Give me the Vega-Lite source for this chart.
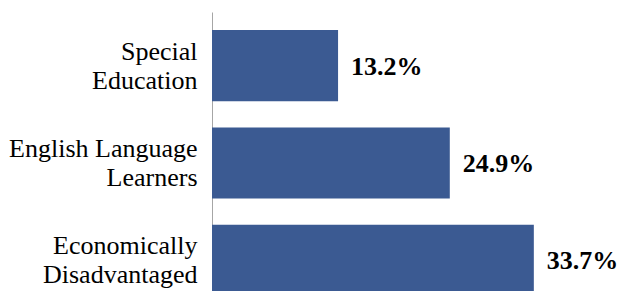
{
  "$schema": "https://vega.github.io/schema/vega-lite/v6.json",
  "width": 382,
  "height": 279,
  "autosize": {"type": "none"},
  "padding": {"left": 212, "top": 12, "right": 36, "bottom": 0},
  "background": "white",
  "data": {
    "values": [
      {"group": "Special|Education", "value": 0.132},
      {"group": "English Language|Learners", "value": 0.249},
      {"group": "Economically|Disadvantaged", "value": 0.337}
    ]
  },
  "encoding": {
    "y": {
      "field": "group",
      "type": "nominal",
      "sort": null,
      "scale": {"range": [0, 302], "paddingInner": 0.27, "paddingOuter": 0.185},
      "axis": {
        "title": null,
        "ticks": false,
        "domainColor": "#A6A6A6",
        "domainWidth": 1,
        "labelExpr": "split(datum.label, '|')",
        "labelFont": "Liberation Serif, serif",
        "labelFontSize": 26,
        "labelColor": "#000000",
        "labelLineHeight": 29,
        "labelBaseline": "middle",
        "labelOffset": -14,
        "labelPadding": 15,
        "labelLimit": 300
      }
    },
    "x": {
      "field": "value",
      "type": "quantitative",
      "scale": {"domain": [0, 0.4], "nice": false},
      "axis": null
    }
  },
  "layer": [
    {"mark": {"type": "bar", "color": "#3B5A92"}},
    {
      "mark": {
        "type": "text",
        "align": "left",
        "baseline": "middle",
        "dx": 13,
        "dy": 1,
        "font": "Liberation Serif",
        "fontSize": 26,
        "fontWeight": "bold",
        "color": "#000000"
      },
      "encoding": {"text": {"field": "value", "type": "quantitative", "format": ".1%"}}
    }
  ],
  "config": {
    "view": {"stroke": null},
    "font": "Liberation Serif",
    "axis": {"labelFont": "Liberation Serif"}
  }
}
